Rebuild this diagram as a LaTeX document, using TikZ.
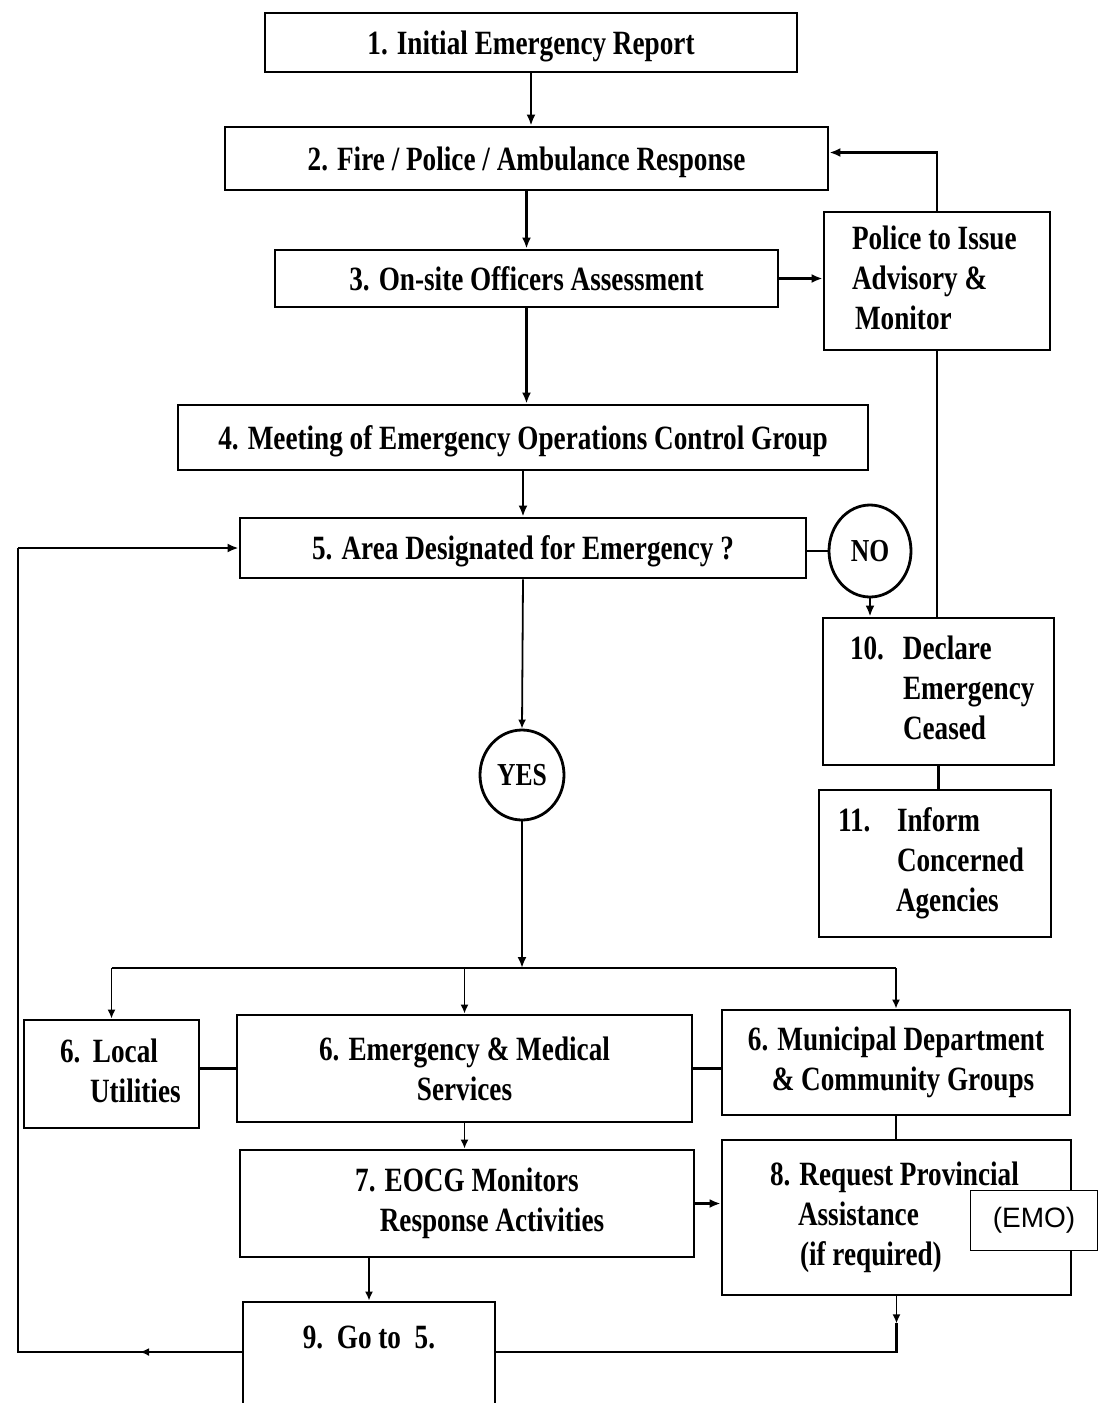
\documentclass[tikz,border=0pt]{standalone}
\usepackage{fontspec}
\setmainfont{Liberation Serif}[FakeStretch=0.8]
\newfontfamily\arialfont{Liberation Sans}
\usetikzlibrary{shapes.geometric,arrows.meta,calc}
\newcommand{\lcol}[2]{\makebox[#1][l]{\raisebox{-4pt}{\begin{tabular}{@{}l@{}}#2\end{tabular}}}}
\begin{document}
\begin{tikzpicture}[x=1pt,y=-1pt,
  bx/.style={draw,line width=2.8pt,inner sep=0pt,
    font=\fontsize{34}{40}\selectfont\bfseries},
  box/.style={bx,align=center},
  sbox/.style={box,text depth=0pt},
  lbox/.style={bx},
  oval/.style={ellipse,draw,line width=2.8pt,inner sep=0pt,
    font=\fontsize{32}{38}\selectfont\bfseries},
  conn/.style={line width=2.4pt},
  thin/.style={line width=1.6pt},
  arr/.style={line width=2.4pt,-{Latex[length=11pt,width=9pt]}},
  sarr/.style={line width=1.8pt,-{Latex[length=9pt,width=8pt]}},
  emobox/.style={draw,line width=0.9pt,fill=white,inner sep=0pt,
    font=\arialfont\fontsize{28}{32}\selectfont}
]
\useasboundingbox (0,0) rectangle (1098,1403);
\fill[white] (0,0) rectangle (1098,1403);

% top chain
\node[sbox,minimum width=532pt,minimum height=59pt] (n1) at (531,42.5) {1. Initial Emergency Report};
\node[sbox,minimum width=603pt,minimum height=63pt] (n2) at (526.5,158.5) {2. Fire / Police / Ambulance Response};
\node[sbox,minimum width=503pt,minimum height=57pt] (n3) at (526.5,278.5) {3. On-site Officers Assessment};
\node[lbox,minimum width=226pt,minimum height=138pt,inner xsep=28pt] (pol) at (937,281)
  {\lcol{170pt}{Police to Issue\\Advisory \&\\\hspace*{3pt}Monitor}};
\node[sbox,minimum width=690pt,minimum height=65pt] (n4) at (523,437.5) {4. Meeting of Emergency Operations Control Group};
\node[sbox,minimum width=566pt,minimum height=60pt] (n5) at (523,548) {5. Area Designated for Emergency ?};
\node[oval,minimum width=82pt,minimum height=92pt] (no) at (870,551) {NO};
\node[oval,minimum width=84pt,minimum height=90pt] (yes) at (522,775) {YES};
\node[lbox,minimum width=231pt,minimum height=147pt,inner xsep=27pt] (n10) at (938.5,691.5)
  {\lcol{177pt}{\makebox[53pt][l]{10.}Declare\\\hspace*{53pt}Emergency\\\hspace*{53pt}Ceased}};
\node[lbox,minimum width=232pt,minimum height=147pt,inner xsep=19pt] (n11) at (935,863.5)
  {\lcol{194pt}{\makebox[59pt][l]{11.}Inform\\\hspace*{59pt}Concerned\\\hspace*{58pt}Agencies}};

% level 6
\node[lbox,minimum width=175pt,minimum height=108pt,inner xsep=36pt] (lu) at (111.5,1074)
  {\lcol{103pt}{\makebox[33pt][l]{6.}Local\\\hspace*{30pt}Utilities}};
\node[box,minimum width=455pt,minimum height=107pt] (em) at (464.5,1068.5) {6. Emergency \& Medical\\Services};
\node[box,minimum width=348pt,minimum height=105pt] (mun) at (896,1062.5) {6. Municipal Department\\\hspace*{14pt}\& Community Groups};

% level 7/8/9
\node[box,minimum width=454pt,minimum height=107pt] (n7) at (467,1203.5) {7. EOCG Monitors\\\hspace*{50pt}Response Activities};
\node[lbox,minimum width=349pt,minimum height=155pt,inner xsep=48pt] (n8) at (896.5,1217.5)
  {\lcol{253pt}{8. Request Provincial\\\hspace*{28pt}Assistance\\\hspace*{30pt}(if required)}};
\node[box,minimum width=252pt,minimum height=110pt] (n9) at (369,1357) {9.\ \ Go to\ \ 5.\\\mbox{}};
\node[emobox,minimum width=127pt,minimum height=60pt] (emo) at (1034,1220) {(EMO)};

% connectors top
\draw[arr] (n1.south) -- (n1.south |- n2.north);
\draw[arr] (n2.south) -- (n2.south |- n3.north);
\draw[arr] (n3.south) -- (n3.south |- n4.north);
\draw[arr] (n4.south) -- (n4.south |- n5.north);
\draw[sarr] (n5.south) -- (yes.north);
\draw[arr] (n3.east) -- (n3.east -| pol.west);
\draw[arr] (pol.north) |- ([yshift=6pt]n2.east);
\draw[thin] (pol.south) -- (pol.south |- n10.north);
\draw[conn] (no.west) -- (no.west -| n5.east);
\draw[arr] (no.south) -- (no.south |- n10.north);
\draw[conn] (n10.south) -- (n10.south |- n11.north);

% branch bus
\coordinate (bus) at (522,968);
\draw[arr] (yes.south) -- (bus);
\draw[conn] (lu.north |- bus) -- (mun.north |- bus);
\draw[sarr] (lu.north |- bus) -- (lu.north);
\draw[sarr] (em.north |- bus) -- (em.north);
\draw[sarr] (mun.north |- bus) -- (mun.north);

% level 6 links
\draw[conn] (em.west) -- (em.west -| lu.east);
\draw[conn] (em.east) -- (em.east -| mun.west);
\draw[sarr] (em.south) -- (em.south |- n7.north);
\draw[conn] (mun.south) -- (mun.south |- n8.north);
\draw[arr] (n7.east) -- (n7.east -| n8.west);
\draw[sarr] (n9.north |- n7.south) -- (n9.north);

% return loop
\coordinate (n9r) at ([yshift=5pt]n9.east);
\coordinate (n9l) at ([yshift=5pt]n9.west);
\coordinate (m8) at ($(n8.south)+(0,27)$);
\coordinate (Lb) at (18,1352);
\coordinate (ml) at (140,1352);
\draw[sarr] (n8.south) -- (m8);
\draw[conn] (m8) -- (m8 |- n9r) -- (n9r);
\draw[conn] (n9l) -- (Lb) -- (Lb |- n5.west);
\draw[sarr] (n9l) -- (ml);
\draw[arr] (Lb |- n5.west) -- (n5.west);
\end{tikzpicture}
\end{document}
